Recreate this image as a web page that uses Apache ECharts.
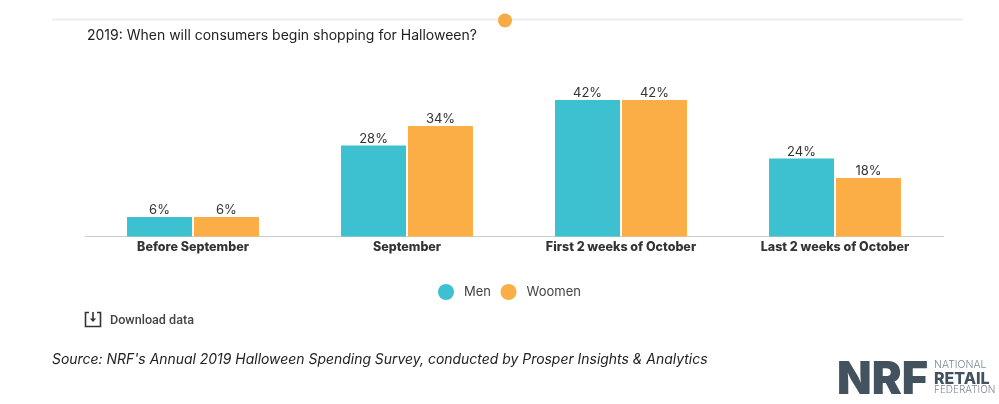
<!DOCTYPE html>
<html><head><meta charset="utf-8">
<style>html,body{margin:0;padding:0;background:#fff}#c{width:999px;height:404px}</style>
<script src="https://cdn.jsdelivr.net/npm/echarts@6/dist/echarts.min.js"></script>
</head><body><div id="c"></div>
<script>
const categories = ['Before September','September','First 2 weeks of October','Last 2 weeks of October'];
const men = [6,28,42,24];
const women = [6,34,42,18];
const titleText = '2019: When will consumers begin shopping for Halloween?';
const sourceText = "Source: NRF's Annual 2019 Halloween Spending Survey, conducted by Prosper Insights & Analytics";
const F = 'Inter';
const chart = echarts.init(document.getElementById('c'), null, {renderer:'canvas'});
const label = {show:true, position:'top', distance:0, formatter:'{c}%', color:'#333', fontFamily:F, fontSize:13};
chart.setOption({
  animation:false,
  backgroundColor:'#fff',
  grid:{left:86, width:856, top:100, height:136.5, containLabel:false},
  xAxis:{type:'category', data:categories,
    axisLine:{show:false}, axisTick:{show:false},
    axisLabel:{color:'#333', fontFamily:F, fontWeight:800, fontSize:12.5, margin:4}},
  yAxis:{type:'value', min:0, max:42, show:false, splitLine:{show:false}},
  legend:{left:433, top:279, itemWidth:16, itemHeight:16, itemGap:9.5, icon:'circle',
    textStyle:{color:'#444', fontFamily:F, fontSize:13, padding:[0,0,8,5]}, data:['Men','Woomen']},
  series:[
    {name:'Men', type:'bar', data:men, barWidth:65, barGap:'3%', itemStyle:{color:'#3dc0d0'}, label},
    {name:'Woomen', type:'bar', data:women, barWidth:65, itemStyle:{color:'#fbae45'}, label}
  ],
  graphic:[
    {type:'line', silent:true, shape:{x1:85,y1:236.5,x2:944,y2:236.5}, style:{stroke:'#cccccc',lineWidth:1}},
    {type:'line', silent:true, shape:{x1:52,y1:19.5,x2:963,y2:19.5}, style:{stroke:'#eeeeee',lineWidth:2}},
    {type:'circle', silent:true, shape:{cx:505,cy:20.5,r:7}, style:{fill:'#f6ab45'}},
    {type:'text', left:87, top:29, style:{text:titleText, fill:'#222', font:'14px '+F}},
    {type:'text', left:52, top:353, style:{text:sourceText, fill:'#222', font:'italic 13.95px '+F}},
    {type:'text', left:110, top:314, style:{text:'Download data', fill:'#444', font:'500 12.6px Roboto'}},
    {type:'polyline', silent:true, shape:{points:[[89,312.5],[85.5,312.5],[85.5,326.5],[100.5,326.5],[100.5,312.5],[97,312.5]]}, style:{stroke:'#333',fill:null,lineWidth:1.6}},
    {type:'polyline', silent:true, shape:{points:[[93,312],[93,320]]}, style:{stroke:'#333',fill:null,lineWidth:1.6}},
    {type:'polygon', silent:true, shape:{points:[[89.8,318.5],[96.2,318.5],[93,322]]}, style:{fill:'#333'}},
    {type:'text', left:837, top:358, style:{text:'NRF', fill:'#43525f', font:'900 45px Inter'}},
    {type:'text', left:934, top:359, style:{text:'NATIONAL', fill:'#7d8893', font:'300 10.5px Inter'}},
    {type:'text', left:934, top:371, style:{text:'RETAIL', fill:'#43525f', font:'800 16px Inter'}},
    {type:'text', left:934, top:385, style:{text:'FEDERATION', fill:'#7d8893', font:'300 10px Inter'}}
  ]
});
</script></body></html>
